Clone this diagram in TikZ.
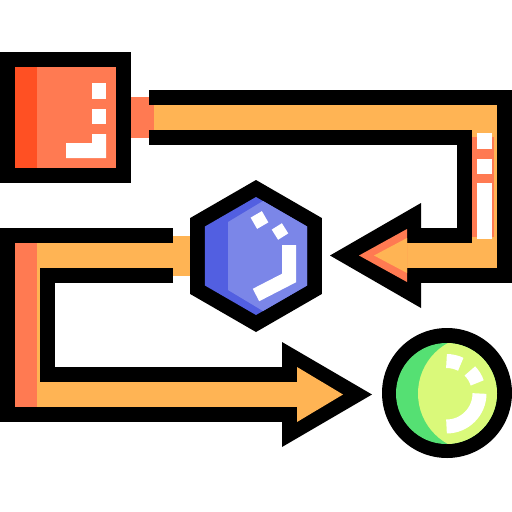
\documentclass[tikz,border=0pt]{standalone}
\definecolor{pipe}{HTML}{FFB454}
\definecolor{redl}{HTML}{FF7A52}
\definecolor{redd}{HTML}{FF5023}
\definecolor{blued}{HTML}{525FE1}
\definecolor{bluel}{HTML}{7B86E8}
\definecolor{greend}{HTML}{55E073}
\definecolor{greenl}{HTML}{DAF97A}
\tikzset{
  pipeout/.style={line width=55pt, line join=miter, black},
  pipein/.style={line width=25pt, line join=miter, pipe},
  shine/.style={white},
}
\begin{document}
\begin{tikzpicture}[x=1pt,y=-1pt]
\useasboundingbox (0,0) rectangle (512,512);
% ---- red square
\fill (0,52) rectangle (131,183);
\fill[redl] (15,67) rectangle (116,168);
\fill[redd] (15,67) rectangle (37,168);
\fill[shine] (92,83) rectangle (106,99);
\fill[shine] (92,109) rectangle (106,124);
\fill[shine] (92,134) -- (106,134) -- (106,158) -- (66,158) -- (66,143) -- (92,143) -- cycle;
% ---- top pipe
\coordinate (t0) at (149,117.5);
\coordinate (t1) at (484.5,117.5);
\coordinate (t2) at (484.5,255.5);
\coordinate (t3) at (407,255.5);
\fill[redl] (131,97) rectangle (154,138);
\draw[pipeout] (t0) -- (t1) -- (t2) -- (t3);
\fill (421,203) -- (330,255.5) -- (421,308) -- cycle;
\draw[pipein] (t0) -- (t1) -- (t2) -- (t3);
\fill[redl] (149,105) rectangle (154,130);
\fill[redl] (407,229) -- (359,255.5) -- (407,282) -- cycle;
\fill[pipe] (407,238) -- (374,255.5) -- (407,273) -- cycle;
\fill[redl] (472,137) rectangle (494,237);
\fill[shine] (477,133) rectangle (492,149);
\fill[shine] (477,159) rectangle (492,174);
\fill[shine] (477,183) rectangle (492,239);
% ---- bottom-left pipe
\coordinate (b0) at (173,255.5);
\coordinate (b1) at (27.5,255.5);
\coordinate (b2) at (27.5,394.5);
\coordinate (b3) at (297,394.5);
\draw[pipeout] (b0) -- (b1) -- (b2) -- (b3);
\fill (282,342) -- (372,394.5) -- (282,447) -- cycle;
\draw[pipein] (b0) -- (b1) -- (b2) -- (b3);
\fill[pipe] (297,367) -- (343,394.5) -- (297,422) -- cycle;
\fill[pipe] (173,236) rectangle (192,276);
\fill[redl] (15,243) rectangle (37,407);
% ---- hexagon
\fill (256,180) -- (321.8,218) -- (321.8,294) -- (256,332) -- (190.2,294) -- (190.2,218) -- cycle;
\fill[blued] (256,197) -- (307.1,226.5) -- (307.1,285.5) -- (256,315) -- (204.9,285.5) -- (204.9,226.5) -- cycle;
\fill[bluel] (228,222) -- (263,201) -- (307.1,226.5) -- (307.1,285.5) -- (263,311) -- (228,290) -- cycle;
\fill[shine, rotate around={30:(259.5,220)}] (253,213.5) rectangle (266,226.5);
\fill[shine, rotate around={32:(280,231.5)}] (274,225.5) rectangle (286,237.5);
\draw[shine, line width=14pt, line join=miter] (289,245) -- (289,278) -- (256,295);
% ---- green circle
\coordinate (gc) at (446.5,393.5);
\fill (447,393) circle (65);
\fill[greend] (gc) circle (50.5);
\begin{scope}
\clip (gc) circle (50.5);
\fill[greenl] (475.6,393.5) circle (57.6);
\end{scope}
\draw[shine, line width=14pt] (gc) ++(-90:32.5) arc[start angle=-90, end angle=-64, radius=32.5];
\draw[shine, line width=14pt] (gc) ++(-44:32.5) arc[start angle=-44, end angle=-19, radius=32.5];
\draw[shine, line width=14pt] (gc) ++(0:33) arc[start angle=0, end angle=90, radius=33];
\end{tikzpicture}
\end{document}
